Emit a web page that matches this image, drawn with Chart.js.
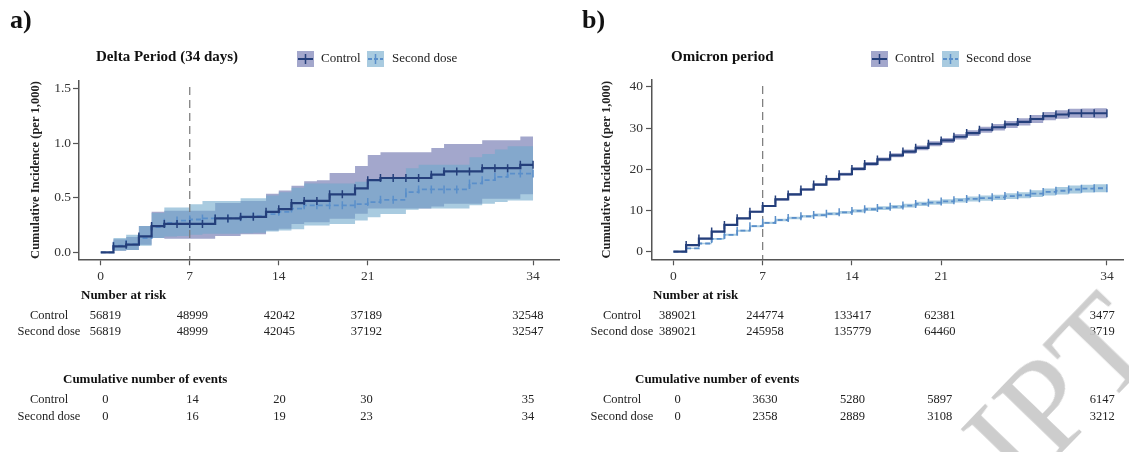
<!DOCTYPE html>
<html>
<head>
<meta charset="utf-8">
<script src="https://cdn.jsdelivr.net/npm/chart.js@4.4.1/dist/chart.umd.min.js"></script>
<style>
  html, body { margin: 0; padding: 0; background: #fff; overflow: hidden; }
  #page { position: relative; width: 1129px; height: 452px; overflow: hidden; }
  canvas { position: absolute; top: 0; }
  #watermark {
    position: absolute; left: 940px; top: 416px;
    font: 135px "Liberation Serif", serif; line-height: 1;
    color: rgba(200, 200, 200, 0.9);
    transform-origin: 0 0; transform: rotate(-46deg);
    white-space: nowrap; pointer-events: none;
  }
</style>
</head>
<body>
<div id="page">
  <canvas id="delta" width="565" height="452" style="left:0"></canvas>
  <canvas id="omicron" width="564" height="452" style="left:565px"></canvas>
  <div id="watermark">IPT</div>
</div>
<script>
const days = [0, 1, 2, 3, 4, 5, 6, 7, 8, 9, 10, 11, 12, 13, 14, 15, 16, 17, 18, 19, 20,
  21, 22, 23, 24, 25, 26, 27, 28, 29, 30, 31, 32, 33, 34];
const dayTicks = [0, 7, 14, 21, 34];
const groups = ['Control', 'Second dose'];

// Delta period, cumulative incidence per 1,000 (value held from day i to day i+1)
const deltaControl = [0, 0.055, 0.07, 0.145, 0.24, 0.26, 0.26, 0.26, 0.26, 0.31, 0.31, 0.325, 0.325, 0.37, 0.395,
  0.45, 0.47, 0.47, 0.53, 0.53, 0.585, 0.66, 0.68, 0.68, 0.68, 0.68, 0.71, 0.74, 0.74, 0.74, 0.77, 0.77, 0.77, 0.80, 0.80];
const deltaControlLow = [0, 0.015, 0.02, 0.07, 0.13, 0.125, 0.125, 0.125, 0.125, 0.15, 0.15, 0.165, 0.165, 0.2, 0.215,
  0.26, 0.275, 0.275, 0.306, 0.306, 0.352, 0.4, 0.4, 0.4, 0.4, 0.4, 0.42, 0.445, 0.445, 0.445, 0.49, 0.49, 0.49, 0.53, 0.53];
const deltaControlHigh = [0, 0.12, 0.14, 0.24, 0.37, 0.38, 0.38, 0.38, 0.38, 0.45, 0.45, 0.47, 0.47, 0.535, 0.565,
  0.61, 0.65, 0.66, 0.725, 0.725, 0.79, 0.89, 0.915, 0.915, 0.915, 0.915, 0.955, 0.99, 0.99, 0.99, 1.025, 1.025, 1.025, 1.06, 1.06];
const deltaSecond = [0, 0.06, 0.075, 0.13, 0.23, 0.27, 0.29, 0.30, 0.31, 0.31, 0.31, 0.32, 0.33, 0.35, 0.37,
  0.40, 0.43, 0.43, 0.43, 0.43, 0.44, 0.46, 0.48, 0.48, 0.55, 0.575, 0.575, 0.575, 0.575, 0.63, 0.66, 0.69, 0.72, 0.72, 0.72];
const deltaSecondLow = [0, 0.015, 0.02, 0.06, 0.13, 0.145, 0.15, 0.16, 0.17, 0.17, 0.17, 0.175, 0.18, 0.19, 0.2,
  0.21, 0.245, 0.245, 0.26, 0.26, 0.29, 0.32, 0.35, 0.35, 0.39, 0.4, 0.4, 0.4, 0.4, 0.43, 0.445, 0.46, 0.474, 0.474, 0.474];
const deltaSecondHigh = [0, 0.13, 0.16, 0.24, 0.36, 0.41, 0.41, 0.44, 0.47, 0.47, 0.47, 0.495, 0.495, 0.52, 0.55,
  0.59, 0.63, 0.63, 0.63, 0.63, 0.645, 0.67, 0.69, 0.69, 0.77, 0.8, 0.8, 0.8, 0.8, 0.87, 0.9, 0.94, 0.97, 0.97, 0.97];
const deltaYTicks = [0, 0.5, 1.0, 1.5];
const deltaRiskControl = [56819, 48999, 42042, 37189, 32548];
const deltaRiskSecond = [56819, 48999, 42045, 37192, 32547];
const deltaEventsControl = [0, 14, 20, 30, 35];
const deltaEventsSecond = [0, 16, 19, 23, 34];

// Omicron period
const omicronControl = [0, 1.6, 3.2, 4.9, 6.5, 8.1, 9.7, 11.1, 12.7, 13.9, 15.1, 16.3, 17.6, 18.8, 20.1,
  21.3, 22.4, 23.4, 24.3, 25.2, 26.2, 27.0, 27.9, 28.8, 29.6, 30.2, 30.9, 31.5, 32.2, 32.9, 33.3, 33.6, 33.6, 33.6, 33.6];
const omicronControlLow = [0, 1.45, 3.0, 4.7, 6.3, 7.9, 9.45, 10.85, 12.4, 13.6, 14.8, 16.0, 17.25, 18.45, 19.7,
  20.85, 21.95, 22.9, 23.8, 24.65, 25.6, 26.4, 27.25, 28.1, 28.85, 29.4, 30.05, 30.6, 31.25, 31.9, 32.25, 32.5, 32.45, 32.4, 32.4];
const omicronControlHigh = [0, 1.75, 3.4, 5.1, 6.7, 8.3, 9.95, 11.35, 13.0, 14.2, 15.4, 16.6, 17.95, 19.15, 20.5,
  21.75, 22.85, 23.9, 24.8, 25.75, 26.8, 27.6, 28.55, 29.5, 30.35, 31.0, 31.75, 32.4, 33.15, 33.9, 34.35, 34.7, 34.75, 34.8, 34.8];
const omicronSecond = [0, 0.8, 2.0, 3.1, 4.1, 5.1, 6.2, 7.0, 7.7, 8.2, 8.6, 8.9, 9.2, 9.55, 9.9,
  10.3, 10.6, 10.9, 11.2, 11.6, 11.9, 12.2, 12.5, 12.8, 13.0, 13.2, 13.5, 13.7, 14.1, 14.5, 14.8, 15.1, 15.3, 15.4, 15.4];
const omicronSecondLow = [0, 0.65, 1.8, 2.9, 3.85, 4.85, 5.95, 6.7, 7.4, 7.9, 8.3, 8.55, 8.85, 9.2, 9.5,
  9.9, 10.15, 10.45, 10.75, 11.1, 11.4, 11.65, 11.95, 12.2, 12.35, 12.55, 12.8, 12.95, 13.3, 13.65, 13.9, 14.15, 14.35, 14.45, 14.45];
const omicronSecondHigh = [0, 0.95, 2.2, 3.3, 4.35, 5.35, 6.45, 7.3, 8.0, 8.5, 8.9, 9.25, 9.55, 9.9, 10.3,
  10.7, 11.05, 11.35, 11.65, 12.1, 12.4, 12.75, 13.05, 13.4, 13.65, 13.85, 14.2, 14.45, 14.9, 15.35, 15.7, 16.05, 16.25, 16.35, 16.35];
const omicronYTicks = [0, 10, 20, 30, 40];
const omicronRiskControl = [389021, 244774, 133417, 62381, 3477];
const omicronRiskSecond = [389021, 245958, 135779, 64460, 3719];
const omicronEventsControl = [0, 3630, 5280, 5897, 6147];
const omicronEventsSecond = [0, 2358, 2889, 3108, 3212];

const NAVY = '#243f7b';
const BLUE = '#5a8fca';
const BAND_C = 'rgb(163,167,204)';
const BAND_S = 'rgba(112,168,203,0.6)';
const KEY_S = 'rgb(169,203,224)';
const AXIS = '#555';
const SERIF = '"Liberation Serif", "Times New Roman", serif';

function extras(cfg) {
  return {
    id: 'kmExtras',
    beforeDatasetsDraw(chart) {
      const {ctx, chartArea, scales: {x}} = chart;
      const px = x.getPixelForValue(7);
      ctx.save();
      ctx.strokeStyle = '#777';
      ctx.lineWidth = 1.2;
      ctx.setLineDash([8, 5]);
      ctx.beginPath();
      ctx.moveTo(px, cfg.dashTop);
      ctx.lineTo(px, chartArea.bottom);
      ctx.stroke();
      ctx.restore();
    },
    afterDraw(chart) {
      const ctx = chart.ctx;
      const t = chart.scales.xTable;
      ctx.save();
      ctx.textBaseline = 'middle';
      ctx.fillStyle = '#111';
      ctx.textAlign = 'left';
      ctx.font = 'bold 26px ' + SERIF;
      ctx.fillText(cfg.letter, cfg.letterX, 21);
      ctx.font = 'bold 15px ' + SERIF;
      ctx.fillText(cfg.title, cfg.titleX, 57);

      // legend keys
      const key = (x, fill, color, dash) => {
        ctx.fillStyle = fill;
        ctx.fillRect(x, 51, 17, 16);
        ctx.strokeStyle = color;
        ctx.lineWidth = 2;
        ctx.setLineDash(dash);
        ctx.beginPath(); ctx.moveTo(x + 1, 59); ctx.lineTo(x + 16, 59); ctx.stroke();
        ctx.setLineDash([]);
        ctx.lineWidth = 1.5;
        ctx.beginPath(); ctx.moveTo(x + 8.5, 54); ctx.lineTo(x + 8.5, 64); ctx.stroke();
      };
      key(cfg.legendX[0], BAND_C, NAVY, []);
      key(cfg.legendX[2], KEY_S, BLUE, [4, 2]);
      ctx.fillStyle = '#222';
      ctx.font = '13px ' + SERIF;
      ctx.fillText(groups[0], cfg.legendX[1], 59);
      ctx.fillText(groups[1], cfg.legendX[3], 59);

      // risk and event tables
      ctx.fillStyle = '#111';
      ctx.font = 'bold 13px ' + SERIF;
      ctx.fillText('Number at risk', cfg.riskHeadX, 296);
      ctx.fillText('Cumulative number of events', cfg.eventHeadX, 380);
      ctx.font = '12.5px ' + SERIF;
      ctx.fillStyle = '#222';
      ctx.textAlign = 'center';
      const rows = [
        [groups[0], cfg.riskControl, 316], [groups[1], cfg.riskSecond, 332],
        [groups[0], cfg.eventsControl, 400], [groups[1], cfg.eventsSecond, 417]
      ];
      rows.forEach(([label, vals, y]) => {
        ctx.fillText(label, cfg.rowLabelX, y);
        dayTicks.forEach((d, i) => ctx.fillText(String(vals[i]), t.getPixelForValue(d), y));
      });
      ctx.restore();
    }
  };
}

function kmChart(id, cfg) {
  const pts = arr => days.map((d, i) => ({x: d, y: arr[i]}));
  const band = (arr, color, fill) => ({
    data: pts(arr), borderWidth: 0, pointRadius: 0, stepped: true, fill: fill, backgroundColor: color
  });
  const tickRadius = c => (c.dataIndex === 0 ? 0 : 4);
  const tickFont = {family: SERIF, size: 13.5};

  new Chart(document.getElementById(id), {
    type: 'line',
    data: {
      datasets: [
        {label: groups[0], data: pts(cfg.control), borderColor: NAVY, borderWidth: 2.2, stepped: true, fill: false,
          pointStyle: 'line', rotation: 90, pointRadius: tickRadius, pointBorderColor: NAVY, pointBorderWidth: 1.5},
        {label: groups[1], data: pts(cfg.second), borderColor: BLUE, borderWidth: 1.8, borderDash: [5, 3], stepped: true, fill: false,
          pointStyle: 'line', rotation: 90, pointRadius: tickRadius, pointBorderColor: BLUE, pointBorderWidth: 1.5},
        band(cfg.secondHigh, BAND_S, '+1'),
        band(cfg.secondLow, BAND_S, false),
        band(cfg.controlHigh, BAND_C, '+1'),
        band(cfg.controlLow, BAND_C, false)
      ]
    },
    options: {
      responsive: false,
      animation: false,
      events: [],
      layout: {padding: {top: cfg.top, bottom: 167.7, left: 0, right: 0}},
      scales: {
        x: {
          type: 'linear', min: cfg.xMin, max: cfg.xMax,
          afterBuildTicks: s => { s.ticks = dayTicks.map(v => ({value: v})); },
          afterFit: s => { s.height = 25; },
          border: {color: AXIS, width: 1.5},
          grid: {drawOnChartArea: false, tickLength: 6, tickColor: AXIS, tickWidth: 1.2},
          ticks: {font: tickFont, color: '#333', padding: 3, maxRotation: 0}
        },
        xTable: {type: 'linear', axis: 'x', display: false, min: cfg.tableMin, max: cfg.tableMax},
        y: {
          min: cfg.yMin, max: cfg.yMax,
          afterBuildTicks: s => { s.ticks = cfg.yTicks.map(v => ({value: v})); },
          afterFit: s => { s.width = cfg.axisLeft; },
          border: {color: AXIS, width: 1.5},
          grid: {drawOnChartArea: false, tickLength: 6, tickColor: AXIS, tickWidth: 1.2},
          ticks: {font: tickFont, color: '#333', padding: cfg.yPad, callback: cfg.yFormat},
          title: {display: true, text: 'Cumulative Incidence (per 1,000)', color: '#222',
            font: {family: SERIF, size: 12.5, weight: 'bold'}, padding: {top: cfg.yTitlePad, bottom: 0}}
        }
      },
      plugins: {legend: {display: false}, tooltip: {enabled: false}, filler: {drawTime: 'beforeDatasetsDraw'}}
    },
    plugins: [extras(cfg)]
  });
}

kmChart('delta', {
  letter: 'a)', letterX: 10, title: 'Delta Period (34 days)', titleX: 96,
  legendX: [297, 321, 367, 392],
  control: deltaControl, controlLow: deltaControlLow, controlHigh: deltaControlHigh,
  second: deltaSecond, secondLow: deltaSecondLow, secondHigh: deltaSecondHigh,
  riskControl: deltaRiskControl, riskSecond: deltaRiskSecond,
  eventsControl: deltaEventsControl, eventsSecond: deltaEventsSecond,
  riskHeadX: 81, eventHeadX: 63, rowLabelX: 49,
  top: 80.7, axisLeft: 79, dashTop: 87,
  xMin: -1.71, xMax: 36.08, tableMin: -2.124, tableMax: 36.54,
  yMin: -0.064, yMax: 1.57, yTicks: deltaYTicks, yPad: 2, yTitlePad: 28.5,
  yFormat: v => v.toFixed(1)
});

kmChart('omicron', {
  letter: 'b)', letterX: 17, title: 'Omicron period', titleX: 106,
  legendX: [306, 330, 377, 401],
  control: omicronControl, controlLow: omicronControlLow, controlHigh: omicronControlHigh,
  second: omicronSecond, secondLow: omicronSecondLow, secondHigh: omicronSecondHigh,
  riskControl: omicronRiskControl, riskSecond: omicronRiskSecond,
  eventsControl: omicronEventsControl, eventsSecond: omicronEventsSecond,
  riskHeadX: 88, eventHeadX: 70, rowLabelX: 57,
  top: 80, axisLeft: 87, dashTop: 86,
  xMin: -1.68, xMax: 35.3, tableMin: -2.06, tableMax: 35.71,
  yMin: -1.84, yMax: 41.67, yTicks: omicronYTicks, yPad: 3, yTitlePad: 34,
  yFormat: v => String(v)
});
</script>
</body>
</html>
